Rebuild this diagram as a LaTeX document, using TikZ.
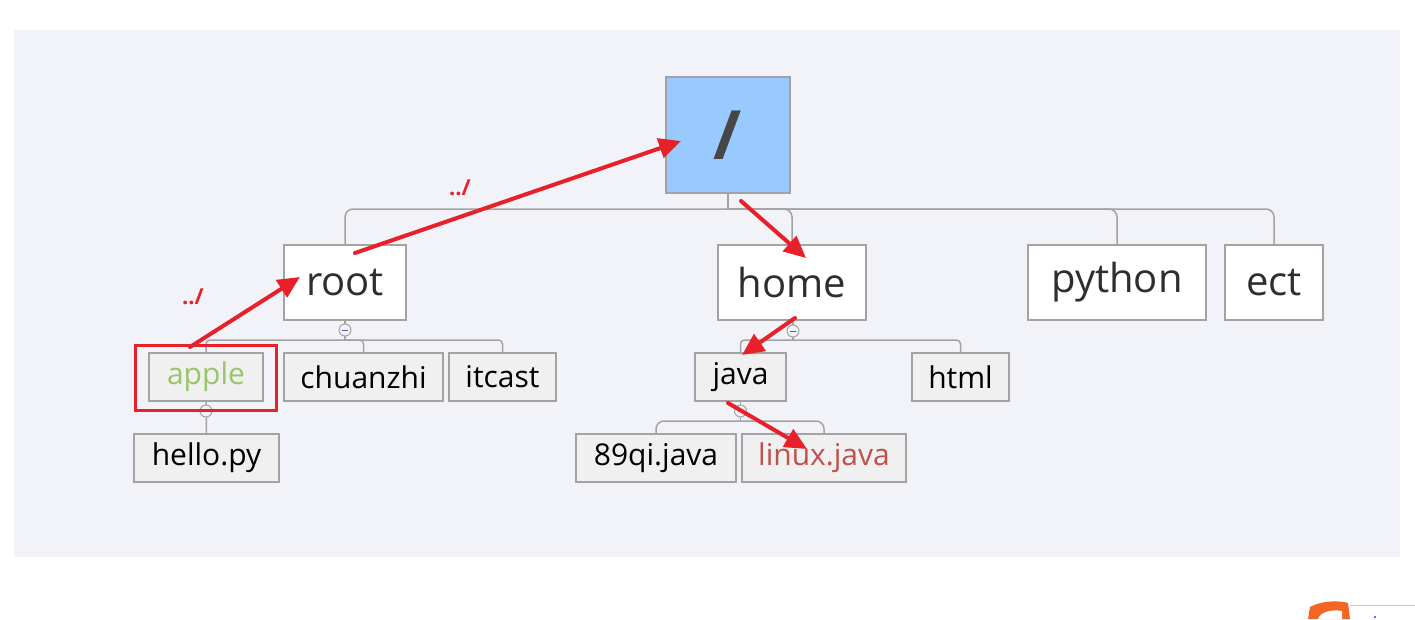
\documentclass[tikz,border=0pt]{standalone}
\usepackage{fontspec}
\setmainfont{Open Sans}
\usetikzlibrary{arrows.meta}
\definecolor{panel}{HTML}{F2F3F8}
\definecolor{boxline}{HTML}{A3A3A3}
\definecolor{rootblue}{HTML}{99CAFF}
\definecolor{lvtwofill}{HTML}{F0F0F0}
\definecolor{redmark}{HTML}{E8202A}
\definecolor{applegreen}{HTML}{9BC46A}
\definecolor{linuxred}{HTML}{C0504D}
\definecolor{logoorange}{HTML}{F26522}
\begin{document}
\begin{tikzpicture}[x=1pt,y=-1pt,
  lvone/.style={draw=boxline, line width=1.5pt, fill=white, inner sep=0pt, minimum height=75pt, font=\fontsize{40}{44}\selectfont, text=black!82},
  lvtwo/.style={draw=boxline, line width=1.5pt, fill=lvtwofill, inner sep=0pt, minimum height=48pt, font=\fontsize{30}{33}\selectfont, text=black},
  tree/.style={draw=boxline, line width=1.5pt, rounded corners=8pt},
  treesmall/.style={draw=boxline, line width=1.5pt, rounded corners=4pt},
  toggle/.style={circle, draw=boxline, line width=1pt, fill=panel, minimum size=12pt, inner sep=0pt,
    path picture={\draw[line width=1pt, blue!30!gray] ([xshift=-3pt]path picture bounding box.center) -- ([xshift=3pt]path picture bounding box.center);}},
  redarrow/.style={draw=redmark, line width=4pt, line cap=round, -{Triangle[length=22pt,width=20pt]}},
  dotlabel/.style={text=redmark, font=\bfseries\fontsize{22}{24}\selectfont, inner sep=0pt}
]
\useasboundingbox (0,0) rectangle (1415,619);
\fill[white] (0,0) rectangle (1415,619);
\fill[panel] (14,30) rectangle (1400,557);

% nodes
\node[draw=boxline, line width=1.5pt, fill=rootblue, minimum width=124pt, minimum height=116pt, inner sep=0pt,
  font=\bfseries\fontsize{68}{72}\selectfont, text=black!72] (slash) at (728,135) {/};
\node[lvone, minimum width=122pt] (root) at (345,282.5) {root};
\node[lvone, minimum width=148pt] (home) at (792,282.5) {home};
\node[lvone, minimum width=178pt] (python) at (1117,282.5) {python};
\node[lvone, minimum width=98pt] (ect) at (1274,282.5) {ect};

\node[lvtwo, minimum width=114pt, text=applegreen] (apple) at (206,377) {apple};
\node[lvtwo, minimum width=159pt] (chuanzhi) at (363.5,377) {chuanzhi};
\node[lvtwo, minimum width=107pt] (itcast) at (502.5,377) {itcast};
\node[lvtwo, minimum width=145pt] (hello) at (206.5,458) {hello.py};
\node[lvtwo, minimum width=91pt] (java) at (740.5,377) {java};
\node[lvtwo, minimum width=97pt] (html) at (960.5,377) {html};
\node[lvtwo, minimum width=160pt] (qi) at (656,458) {89qi.java};
\node[lvtwo, minimum width=164pt, text=linuxred] (linux) at (824,458) {linux.java};

% tree connectors
\coordinate (hub) at (728,209);
\coordinate (rhub) at (345,340);
\coordinate (hhub) at (793,340);
\coordinate (jhub) at (740.5,421);
\draw[tree] (slash.south) -- (hub);
\draw[tree] (hub) -| (root.north);
\draw[tree] (hub) -| (home.north);
\draw[tree] (hub) -| (python.north);
\draw[tree] (hub) -| (ect.north);
\draw[treesmall] (root.south) -- (rhub);
\draw[treesmall] (rhub) -| (apple.north);
\draw[treesmall] (rhub) -| (chuanzhi.north);
\draw[treesmall] (rhub) -| (itcast.north);
\draw[treesmall] (apple.south) -- (hello.north);
\draw[treesmall] (home.south -| hhub) -- (hhub);
\draw[treesmall] (hhub) -| (java.north);
\draw[treesmall] (hhub) -| (html.north);
\draw[treesmall] (java.south) -- (jhub);
\draw[tree] (jhub) -| (qi.north);
\draw[tree] (jhub) -| (linux.north);

% collapse toggles
\node[toggle] (t1) at (345,330) {};
\node[toggle] (t2) at (206,411) {};
\node[toggle] (t3) at (793,331) {};
\node[toggle] (t4) at (740.5,411) {};

% red highlight
\node[draw=redmark, line width=3pt, minimum width=141pt, minimum height=65pt, inner sep=0pt] (applemark) at (205.5,377.5) {};

% red arrows
\coordinate (a1s) at (190,347);
\coordinate (a1e) at (300,277);
\coordinate (a2s) at (355,253);
\coordinate (a2e) at (681,141);
\coordinate (a3s) at (741,201);
\coordinate (a3e) at (806,258);
\coordinate (a4s) at (795,318);
\coordinate (a4e) at (742,355);
\coordinate (a5s) at (728,403);
\coordinate (a5e) at (807,449);
\draw[redarrow] (a1s) -- (a1e);
\draw[redarrow] (a2s) -- (a2e);
\draw[redarrow] (a3s) -- (a3e);
\draw[redarrow] (a4s) -- (a4e);
\draw[redarrow] (a5s) -- (a5e);

\node[dotlabel] (lab1) at (460,188) {../};
\node[dotlabel] (lab2) at (193,297) {../};

% partial logo at the bottom right
\draw[gray!40, line width=0.8pt] (1350,605) -- (1415,605);
\fill[logoorange] (1308,619) -- (1310,607) .. controls (1320,601) and (1338,600) .. (1348,603) -- (1350,619) -- cycle;
\fill[white] (1318,619) .. controls (1320,612) and (1332,609) .. (1342,611) -- (1342,619) -- cycle;
\fill[blue!70!cyan] (1375,617) circle (1.2pt);
\end{tikzpicture}
\end{document}
